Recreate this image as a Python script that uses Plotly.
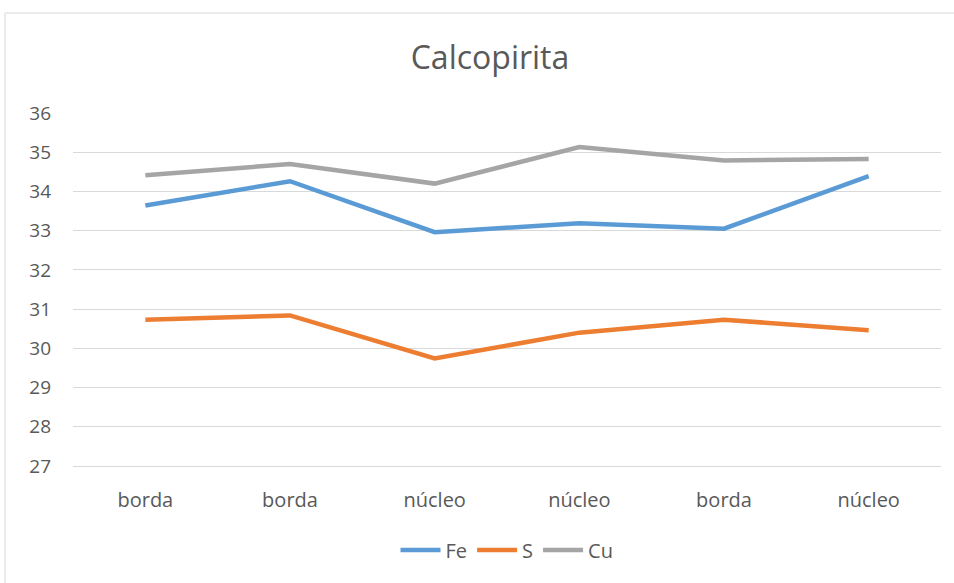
import plotly.graph_objects as go

# Sample positions and element contents (wt%)
categories = ["borda", "borda", "núcleo", "núcleo", "borda", "núcleo"]
fe = [33.64, 34.26, 32.96, 33.19, 33.05, 34.39]
s = [30.73, 30.84, 29.74, 30.40, 30.73, 30.46]
cu = [34.41, 34.70, 34.20, 35.13, 34.79, 34.83]
y_ticks = [27, 28, 29, 30, 31, 32, 33, 34, 35, 36]

W, H = 954, 583
L, R, T, B = 73, 13, 113, 117
pw, ph = W - L - R, H - T - B

x = list(range(len(categories)))
text_color = "#595959"
font_family = "'Open Sans', 'Noto Sans', sans-serif"

fig = go.Figure()
for name, vals, color in [("Fe", fe, "#5B9BD5"), ("S", s, "#ED7D31"), ("Cu", cu, "#A5A5A5")]:
    fig.add_trace(go.Scatter(
        x=x, y=vals, name=name, mode="lines",
        line=dict(color=color, width=4.5, shape="linear"),
    ))

# outer chart frame
fig.add_shape(
    type="rect", xref="paper", yref="paper",
    x0=(5 - L) / pw, x1=(W + 3 - L) / pw,
    y0=-(H + 5 - T - ph) / ph, y1=1 + (T - 13) / ph,
    line=dict(color="#d9d9d9", width=1), fillcolor="rgba(0,0,0,0)", layer="below",
)

fig.update_layout(
    width=W, height=H,
    margin=dict(l=L, r=R, t=T, b=B),
    paper_bgcolor="white", plot_bgcolor="white",
    font=dict(family=font_family, color=text_color, size=19),
    title=dict(
        text="Calcopirita", x=490 / W, xanchor="center", xref="container",
        y=1 - 58 / H, yanchor="middle", yref="container",
        font=dict(size=32, color=text_color, family=font_family),
    ),
    xaxis=dict(
        range=[-0.5, len(categories) - 0.5],
        tickmode="array", tickvals=x, ticktext=categories,
        showgrid=False, zeroline=False,
        showline=True, linecolor="#d9d9d9", linewidth=1,
        ticks="", ticklabelstandoff=16,
        tickfont=dict(size=20, color=text_color),
    ),
    yaxis=dict(
        range=[27, 36], tickmode="array", tickvals=y_ticks,
        showgrid=True, gridcolor="#d9d9d9", gridwidth=1,
        zeroline=False, showline=False, ticks="",
        ticklabelstandoff=21,
        tickfont=dict(size=19, color=text_color),
    ),
    legend=dict(
        orientation="h", x=0.5, xanchor="center",
        y=-(550 - (T + ph)) / ph, yanchor="middle",
        font=dict(size=20, color=text_color),
        itemwidth=40, tracegroupgap=0,
    ),
    showlegend=True,
)

fig.write_html("out.html")
